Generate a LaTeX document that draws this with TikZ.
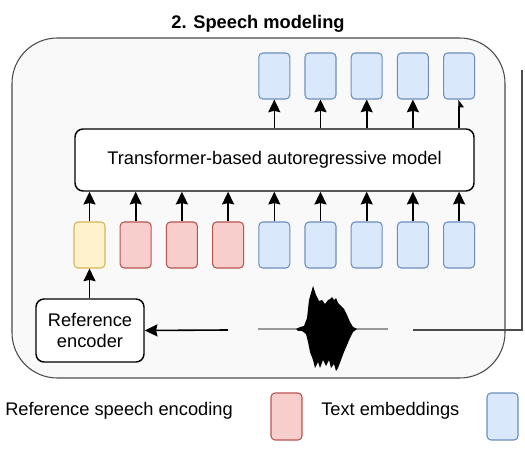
\documentclass[tikz,border=0pt]{standalone}
\usepackage{fontspec}
\setmainfont{Liberation Sans}
\usetikzlibrary{arrows.meta}
\definecolor{bluefill}{HTML}{DAE8FC}
\definecolor{bluedraw}{HTML}{6C8EBF}
\definecolor{redfill}{HTML}{F8CECC}
\definecolor{reddraw}{HTML}{B85450}
\definecolor{yelfill}{HTML}{FFF2CC}
\definecolor{yeldraw}{HTML}{D6B656}
\definecolor{panelfill}{HTML}{F9F9F9}
\definecolor{paneldraw}{HTML}{4A4A4A}
\begin{document}
\begin{tikzpicture}[x=0.75pt,y=-0.75pt,
  lbl/.style={font=\fontsize{13.7}{16}\selectfont, inner sep=0pt},
  token/.style={minimum width=23.25pt, minimum height=34.5pt, rounded corners=3pt, line width=0.8pt, inner sep=0pt},
  bluetok/.style={token, fill=bluefill, draw=bluedraw},
  redtok/.style={token, fill=redfill, draw=reddraw},
  yeltok/.style={token, fill=yelfill, draw=yeldraw},
  block/.style={draw=black, fill=white, line width=1.1pt, rounded corners=6pt, font=\fontsize{13.7}{15.75}\selectfont, align=center, inner sep=0pt},
  arr/.style={line width=1.2pt, -{Stealth[length=9.5pt,width=9pt,inset=1pt]}},
  halfarr/.style={line width=1.2pt, -{Triangle[length=5pt,width=7pt,right]}}
]
\useasboundingbox (0,0) rectangle (525,452);
% panel
\draw[fill=panelfill, draw=paneldraw, line width=0.8pt, rounded corners=34pt] (12,38) rectangle (505,378);
\node[lbl, anchor=base, font=\fontsize{13.7}{16}\selectfont\bfseries] (title) at (258,29) {2. Speech modeling};
% neighbour panel edge
\coordinate (nbtop) at (522,70);
\coordinate (nbcorner) at (522,330);
\coordinate (wavR) at (413,330);
\coordinate (wavL) at (228,330);
\draw[line width=0.9pt, draw=paneldraw] (nbtop) -- (nbcorner) -- (wavR);
% transformer
\node[block, minimum width=299.25pt, minimum height=46.5pt] (tf) at (274.5,160) {Transformer-based autoregressive model};
% input tokens
\node[yeltok] (i0) at (89.5,245) {};
\node[redtok] (i1) at (135.7,245) {};
\node[redtok] (i2) at (181.9,245) {};
\node[redtok] (i3) at (228.1,245) {};
\node[bluetok] (i4) at (274.3,245) {};
\node[bluetok] (i5) at (320.5,245) {};
\node[bluetok] (i6) at (366.7,245) {};
\node[bluetok] (i7) at (412.9,245) {};
\node[bluetok] (i8) at (459.1,245) {};
\foreach \i in {0,...,8} {\draw[arr] (i\i.north) -- (i\i.north |- tf.south);}
% output tokens
\node[bluetok] (o4) at (274.3,76) {};
\node[bluetok] (o5) at (320.5,76) {};
\node[bluetok] (o6) at (366.7,76) {};
\node[bluetok] (o7) at (412.9,76) {};
\node[bluetok] (o8) at (459.1,76) {};
\foreach \i in {4,...,7} {\draw[arr] (o\i.south |- tf.north) -- (o\i.south);}
\draw[halfarr] (o8.south |- tf.north) -- (o8.south);
% reference encoder
\node[block, minimum width=81pt, minimum height=47.25pt] (enc) at (90,330.5) {Reference\\encoder};
\draw[arr] (enc.north -| i0.south) -- (i0.south);
\draw[arr] (wavL) -- (enc.east);
% waveform
\draw[line width=0.9pt, draw=gray!80] (258,329) -- (388,329);
\fill[black] (296,329) -- (300,327) -- (304,326) -- (307,318) -- (309,300) -- (313,286) -- (316,295) -- (319,301) -- (322,300) -- (325,304) -- (328,300) -- (330,299) -- (332,297) -- (334,300) -- (336,298) -- (338,303) -- (341,306) -- (344,309) -- (347,315) -- (350,322) -- (353,327) -- (357,329)
 -- (353,332) -- (350,338) -- (347,345) -- (344,352) -- (341,360) -- (338,368) -- (336,371) -- (334,364) -- (331,368) -- (329,360) -- (326,366) -- (323,360) -- (320,368) -- (318,362) -- (315,368) -- (313,360) -- (310,352) -- (308,342) -- (306,334) -- (302,331) -- (298,331) -- cycle;
% legend
\node[lbl, anchor=base west] (lg1) at (5,415) {Reference speech encoding};
\node[redtok, minimum height=35.25pt] (lgr) at (286.5,416.5) {};
\node[lbl, anchor=base west] (lg2) at (321,415) {Text embeddings};
\node[bluetok, minimum height=35.25pt] (lgb) at (502.5,416.5) {};
\end{tikzpicture}
\end{document}
